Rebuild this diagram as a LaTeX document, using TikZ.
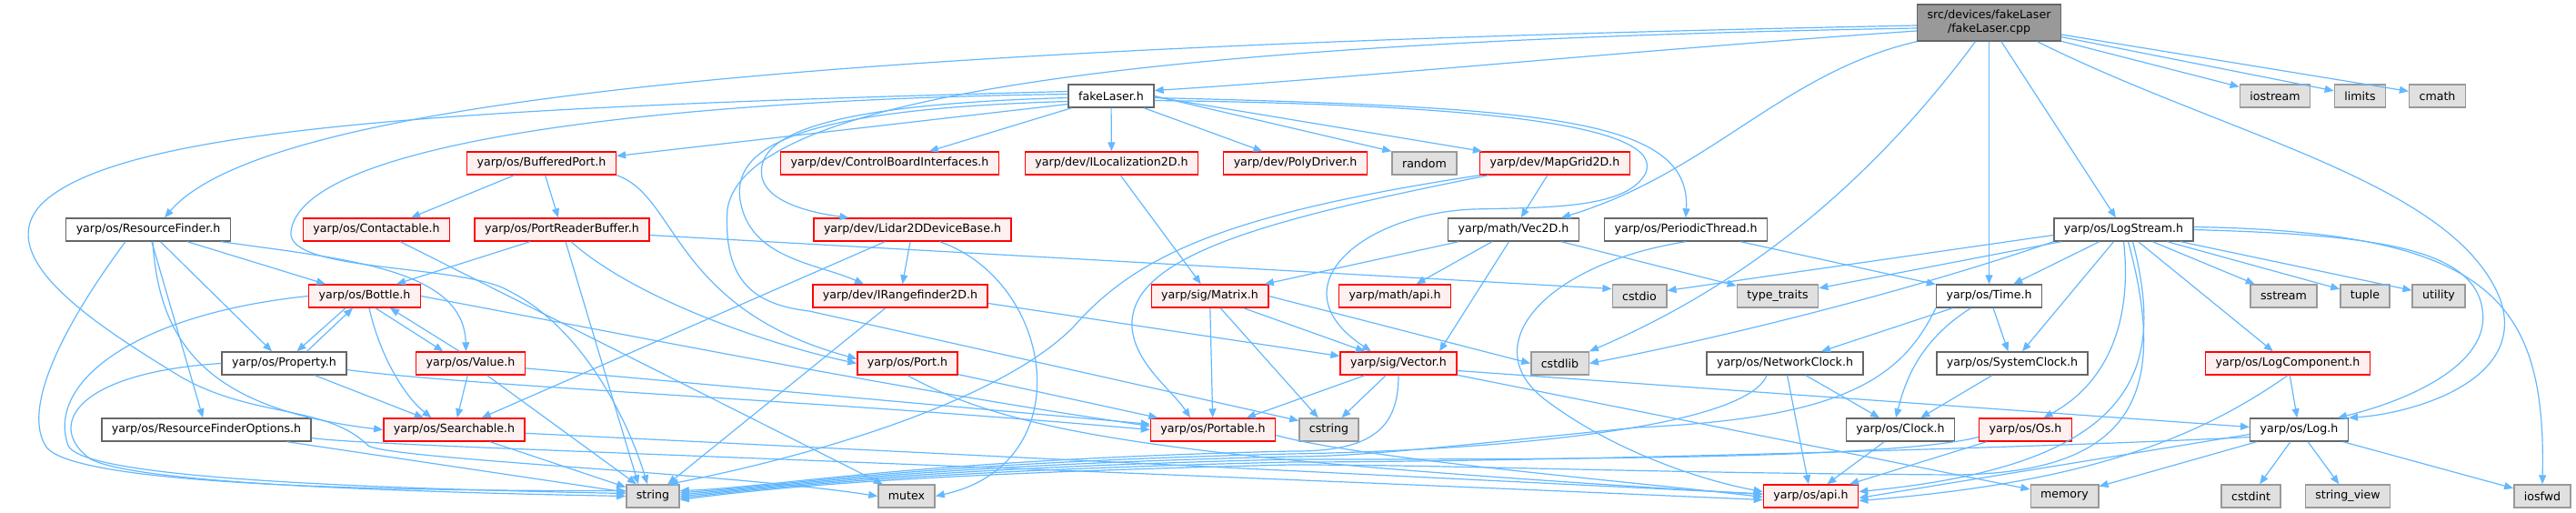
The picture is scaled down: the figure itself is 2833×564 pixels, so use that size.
\documentclass[tikz,border=0pt]{standalone}
\usepackage{fontspec}
\setmainfont{DejaVu Sans}
\usetikzlibrary{arrows.meta}
\definecolor{edgeblue}{HTML}{63B8FF}
\definecolor{hdrline}{HTML}{666666}
\definecolor{rootfill}{HTML}{999999}
\definecolor{redline}{HTML}{FF0000}
\definecolor{redfill}{HTML}{FFF0F0}
\definecolor{grayline}{HTML}{999999}
\definecolor{grayfill}{HTML}{E0E0E0}
\tikzset{
  box/.style={rectangle, minimum height=25pt, inner xsep=11pt, inner ysep=0pt, line width=1.4pt, font=\fontsize{12.6}{15}\selectfont},
  hdr/.style={box, draw=hdrline, fill=white},
  trunc/.style={box, draw=redline, fill=redfill},
  sys/.style={box, draw=grayline, fill=grayfill},
  rootnode/.style={box, draw=hdrline, fill=rootfill, minimum height=40pt, align=center},
  dep/.style={draw=edgeblue, line width=1.2pt, -{Triangle[length=10pt,width=8pt]}}
}
\begin{document}
\begin{tikzpicture}[x=1pt,y=-1pt]
\useasboundingbox (0,0) rectangle (2833,564);
% headers, row by row
\node[rootnode] (root) at (2187.5,25) {src/devices/fakeLaser\\/fakeLaser.cpp};
\node[hdr] (fakeH) at (1222,105.5) {fakeLaser.h};
\node[sys] (iostream) at (2502,105.5) {iostream};
\node[sys] (limits) at (2595.5,105.5) {limits};
\node[sys] (cmath) at (2680.5,105.5) {cmath};
\node[trunc] (bufport) at (595.5,179.5) {yarp/os/BufferedPort.h};
\node[trunc] (ctrlboard) at (978.5,179.5) {yarp/dev/ControlBoardInterfaces.h};
\node[trunc] (iloc) at (1222.5,179.5) {yarp/dev/ILocalization2D.h};
\node[trunc] (polydrv) at (1424.5,179.5) {yarp/dev/PolyDriver.h};
\node[sys] (random) at (1566.5,179.5) {random};
\node[trunc] (mapgrid) at (1710,179.5) {yarp/dev/MapGrid2D.h};
\node[hdr] (resfind) at (163,252.5) {yarp/os/ResourceFinder.h};
\node[trunc] (contact) at (414,252.5) {yarp/os/Contactable.h};
\node[trunc] (prbuf) at (618,252.5) {yarp/os/PortReaderBuffer.h};
\node[trunc] (lidar) at (1003.5,252.5) {yarp/dev/Lidar2DDeviceBase.h};
\node[hdr] (vecmath) at (1664.5,252.5) {yarp/math/Vec2D.h};
\node[hdr] (perthr) at (1854,252.5) {yarp/os/PeriodicThread.h};
\node[hdr] (logstr) at (2335.5,252.5) {yarp/os/LogStream.h};
\node[trunc] (bottle) at (401,325.5) {yarp/os/Bottle.h};
\node[trunc] (irange) at (990,325.5) {yarp/dev/IRangefinder2D.h};
\node[trunc] (matrix) at (1330.5,325.5) {yarp/sig/Matrix.h};
\node[trunc] (mathapi) at (1534,325.5) {yarp/math/api.h};
\node[sys] (cstdio) at (1803,325.5) {cstdio};
\node[sys] (typetr) at (1955,325.5) {type\_traits};
\node[hdr] (time) at (2187.5,325.5) {yarp/os/Time.h};
\node[sys] (sstream) at (2511.5,325.5) {sstream};
\node[sys] (tuple) at (2601,325.5) {tuple};
\node[sys] (utility) at (2682,325.5) {utility};
\node[hdr] (property) at (312.5,399.5) {yarp/os/Property.h};
\node[trunc] (value) at (517.5,399.5) {yarp/os/Value.h};
\node[trunc] (port) at (998,399.5) {yarp/os/Port.h};
\node[trunc] (vector) at (1538,399.5) {yarp/sig/Vector.h};
\node[sys] (cstdlib) at (1715.5,399.5) {cstdlib};
\node[hdr] (netclk) at (1963,399.5) {yarp/os/NetworkClock.h};
\node[hdr] (sysclk) at (2213,399.5) {yarp/os/SystemClock.h};
\node[trunc] (logcomp) at (2516,399.5) {yarp/os/LogComponent.h};
\node[hdr] (rfopt) at (227,472.5) {yarp/os/ResourceFinderOptions.h};
\node[trunc] (search) at (499.5,472.5) {yarp/os/Searchable.h};
\node[trunc] (portable) at (1334,472.5) {yarp/os/Portable.h};
\node[sys] (cstring) at (1461.5,472.5) {cstring};
\node[hdr] (clock) at (2090,472.5) {yarp/os/Clock.h};
\node[trunc] (os) at (2227.5,472.5) {yarp/os/Os.h};
\node[hdr] (log) at (2528.5,472.5) {yarp/os/Log.h};
\node[sys] (string) at (718,545.5) {string};
\node[sys] (mutex) at (997,545.5) {mutex};
\node[trunc] (osapi) at (1991.5,545.5) {yarp/os/api.h};
\node[sys] (memory) at (2270.5,545.5) {memory};
\node[sys] (cstdint) at (2475.5,545.5) {cstdint};
\node[sys] (strview) at (2582,545.5) {string\_view};
\node[sys] (iosfwd) at (2796,545.5) {iosfwd};
% plain includes
\foreach \a/\b in {root/iostream, root/limits, root/cmath, root/time, root/logstr,
  fakeH/ctrlboard, fakeH/iloc, fakeH/polydrv, bufport/prbuf, iloc/matrix, mapgrid/vecmath,
  resfind/bottle, resfind/property, resfind/rfopt, lidar/irange, lidar/search, irange/string,
  vecmath/mathapi, vecmath/matrix, vecmath/typetr, logstr/time, logstr/sysclk, logstr/logcomp,
  logstr/sstream, logstr/tuple, logstr/utility, logstr/typetr, property/search, value/search,
  value/string, search/string, rfopt/string, matrix/portable, matrix/vector, matrix/cstring,
  vector/cstring, vector/portable, port/portable, time/sysclk, time/netclk, netclk/clock,
  netclk/osapi, sysclk/clock, clock/osapi, logcomp/log, log/memory, log/cstdint, log/strview,
  log/iosfwd, os/osapi, vector/memory, contact/mutex, perthr/time, value/portable, search/osapi}
  \draw[dep] (\a) -- (\b);
% routed includes
\draw[dep] ([yshift=-9pt]root.west) .. controls (1800,55) and (1500,85) .. ([yshift=6pt]fakeH.east);
\draw[dep] ([yshift=-3pt]root.west) .. controls (1000,50) and (300,100) .. ([xshift=18pt]resfind.north);
\draw[dep] ([yshift=-6pt]root.west) .. controls (1300,45) and (820,100) .. (800,230) .. controls (795,310) and (830,335) .. (890,342) -- ([yshift=10pt]cstring.west);
\draw[dep] (root.south west) .. controls (1960,80) and (1880,190) .. ([xshift=-20pt]vecmath.north east);
\draw[dep] ([xshift=-15pt]root.south) .. controls (2080,170) and (1950,300) .. (cstdlib.north east);
\draw[dep] ([xshift=53pt]root.south) .. controls (2450,150) and (2700,200) .. (2750,330) .. controls (2780,420) and (2650,455) .. (log.north east);
\draw[dep] ([yshift=-9pt]fakeH.west) -- ([yshift=8pt]bufport.east);
\draw[dep] (fakeH.east) -- (random.north west);
\draw[dep] ([yshift=-1pt]fakeH.east) -- ([xshift=3pt]mapgrid.north west);
\draw[dep] ([yshift=-2pt]fakeH.east) .. controls (1700,118) and (1860,130) .. (perthr.north);
\draw[dep] ([yshift=-5pt]fakeH.east) .. controls (1650,115) and (1830,140) .. (1810,190) .. controls (1790,230) and (1700,228) .. (1620,230) .. controls (1500,235) and (1400,315) .. ([xshift=-30pt]vector.north);
\draw[dep] ([yshift=-2pt]fakeH.west) .. controls (900,115) and (830,150) .. (838,195) .. controls (845,225) and (900,235) .. ([xshift=-70pt]lidar.north);
\draw[dep] ([yshift=-6pt]fakeH.west) .. controls (880,120) and (800,160) .. (815,225) .. controls (828,285) and (900,290) .. ([xshift=-40pt]irange.north);
\draw[dep] ([yshift=2pt]fakeH.west) .. controls (700,110) and (330,160) .. (320,255) .. controls (315,300) and (510,290) .. (560,320) .. controls (640,360) and (690,460) .. ([xshift=-6pt]string.north);
\draw[dep] ([yshift=5pt]fakeH.west) .. controls (500,118) and (130,140) .. (45,225) .. controls (-10,285) and (110,360) .. (200,415) .. controls (280,460) and (360,445) .. (405,490) .. controls (430,505) and (800,520) .. (mutex.west);
\draw[dep] ([xshift=-30pt]bufport.south) -- ([xshift=38pt]contact.north);
\draw[dep] (bufport.south east) .. controls (745,215) and (740,340) .. ([yshift=5pt]port.west);
\draw[dep] ([xshift=5pt]resfind.south) .. controls (175,380) and (230,450) .. (search.west);
\draw[dep] ([xshift=80pt]resfind.south) .. controls (380,285) and (510,295) .. ([xshift=-5pt]value.north);
\draw[dep] ([xshift=-25pt]resfind.south) .. controls (90,330) and (20,440) .. (50,490) .. controls (70,525) and (300,540) .. ([yshift=6pt]string.west);
\draw[dep] ([xshift=-35pt]prbuf.south) -- ([xshift=35pt]bottle.north);
\draw[dep] ([xshift=10pt]prbuf.south) .. controls (700,330) and (850,380) .. (port.west);
\draw[dep] ([xshift=4pt]prbuf.south) -- ([xshift=-16pt]string.north);
\draw[dep] ([yshift=-6pt]prbuf.east) -- ([yshift=8pt]cstdio.west);
\draw[dep] ([xshift=-21pt]bottle.south) -- ([xshift=14pt]property.north);
\draw[dep] ([xshift=25pt]property.north) -- ([xshift=-13pt]bottle.south);
\draw[dep] ([xshift=12pt]bottle.south) -- ([xshift=-30pt]value.north);
\draw[dep] ([xshift=-12pt]value.north) -- ([xshift=28pt]bottle.south);
\draw[dep] ([xshift=5pt]bottle.south) .. controls (420,400) and (450,440) .. ([xshift=-25pt]search.north);
\draw[dep] (bottle.west) .. controls (150,345) and (50,420) .. (75,490) .. controls (90,520) and (300,535) .. ([yshift=3pt]string.west);
\draw[dep] (bottle.east) .. controls (700,370) and (1000,430) .. ([yshift=4pt]portable.west);
\draw[dep] (property.west) .. controls (80,410) and (50,470) .. (100,505) .. controls (150,530) and (400,540) .. (string.west);
\draw[dep] ([yshift=-7pt]property.east) .. controls (520,425) and (900,440) .. (portable.west);
\draw[dep] ([yshift=-9pt]rfopt.east) .. controls (400,490) and (800,500) .. ([yshift=-4pt]osapi.west);
\draw[dep] ([xshift=30pt]lidar.south) .. controls (1160,310) and (1190,510) .. (mutex.east);
\draw[dep] ([yshift=-8pt]irange.east) -- ([yshift=8pt]vector.west);
\draw[dep] (mapgrid.south west) .. controls (1350,235) and (1250,280) .. (1180,360) .. controls (1100,440) and (900,500) .. ([xshift=-12pt]string.north east);
\draw[dep] ([xshift=10pt]mapgrid.south west) .. controls (1400,240) and (1240,280) .. (1245,360) .. controls (1248,400) and (1290,430) .. ([xshift=-25pt]portable.north);
\draw[dep] (matrix.east) -- (cstdlib.west);
\draw[dep] ([xshift=-5pt]vecmath.south) -- ([xshift=45pt]vector.north);
\draw[dep] (perthr.south) .. controls (1700,290) and (1620,380) .. (1700,440) .. controls (1780,500) and (1880,530) .. ([yshift=5pt]osapi.west);
\draw[dep] (port.south) .. controls (1120,480) and (1300,505) .. ([yshift=2pt]osapi.west);
\draw[dep] ([yshift=-6pt]portable.east) .. controls (1500,505) and (1800,530) .. ([yshift=-1pt]osapi.west);
\draw[dep] ([yshift=-6pt]logstr.west) -- ([yshift=6pt]cstdio.east);
\draw[dep] (logstr.south west) .. controls (2100,320) and (1900,370) .. (cstdlib.east);
\draw[dep] (logstr.south) .. controls (2345,350) and (2320,420) .. ([xshift=20pt]os.north);
\draw[dep] ([xshift=10pt]logstr.south) .. controls (2380,400) and (2360,510) .. ([yshift=5pt]osapi.east);
\draw[dep] ([xshift=5pt]logstr.south) .. controls (2385,430) and (2350,520) .. (2150,522) .. controls (1800,520) and (1600,511) .. (1420,511) .. controls (1000,521) and (850,536) .. ([yshift=-4pt]string.east);
\draw[dep] (logstr.east) .. controls (2600,258) and (2720,270) .. (2730,340) .. controls (2740,400) and (2650,440) .. ([xshift=-12pt]log.north east);
\draw[dep] ([yshift=3pt]logstr.east) .. controls (2740,255) and (2800,330) .. (iosfwd.north);
\draw[dep] ([xshift=-20pt]time.south) .. controls (2110,375) and (2095,420) .. ([xshift=-5pt]clock.north);
\draw[dep] (time.south west) .. controls (2090,420) and (2020,460) .. (1800,470) .. controls (1600,490) and (1500,502) .. (1420,502) .. controls (1000,512) and (850,536) .. ([yshift=2pt]string.east);
\draw[dep] ([xshift=-20pt]netclk.south) .. controls (1920,470) and (1650,495) .. (1420,499) .. controls (1000,509) and (850,536) .. ([yshift=4pt]string.east);
\draw[dep] (vector.south) .. controls (1538,470) and (1510,497) .. (1420,496) .. controls (1000,506) and (850,536) .. ([yshift=6pt]string.east);
\draw[dep] ([yshift=-8pt]vector.east) -- ([yshift=3pt]log.west);
\draw[dep] ([yshift=-8pt]os.west) .. controls (2080,505) and (1700,505) .. (1420,505) .. controls (1000,515) and (850,536) .. (string.east);
\draw[dep] ([yshift=-5pt]log.west) -- ([yshift=-2pt]osapi.east);
\draw[dep] ([yshift=-8pt]log.west) .. controls (2300,490) and (1700,508) .. (1420,508) .. controls (1000,518) and (850,536) .. ([yshift=-2pt]string.east);
\draw[dep] (logcomp.south) .. controls (2420,480) and (2300,530) .. ([yshift=-5pt]osapi.east);
\end{tikzpicture}
\end{document}
